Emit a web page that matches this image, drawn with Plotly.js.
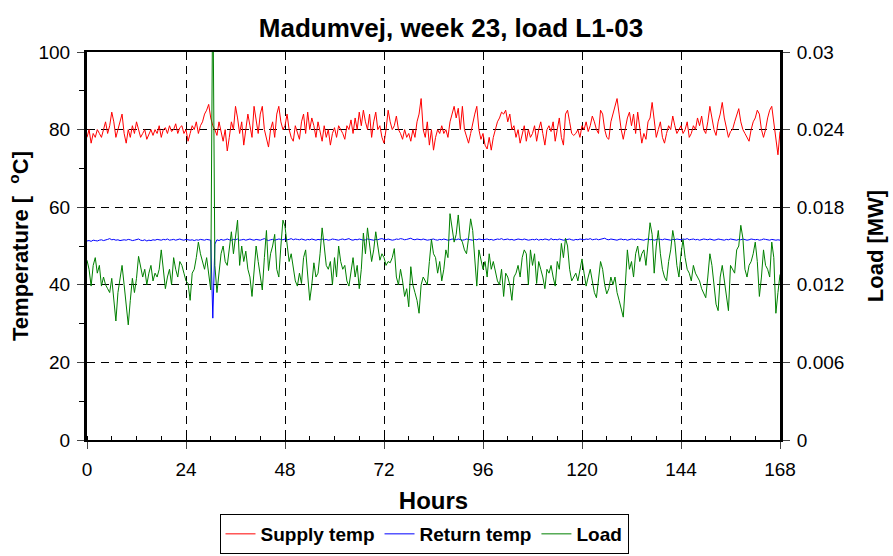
<!DOCTYPE html>
<html>
<head>
<meta charset="utf-8">
<script src="https://cdn.plot.ly/plotly-3.0.1.min.js"></script>
<style>html,body{margin:0;padding:0;background:#fff;}#chart{width:893px;height:556px;}</style>
</head>
<body>
<div id="chart"></div>
<script>
// Time axis: samples every half hour from 0 to 168 h
const stepHours = 0.5;
const sampleCount = 337;
const hours = [];
for (let i = 0; i < sampleCount; i++) hours.push(i * stepHours);

const xTickVals = [0, 24, 48, 72, 96, 120, 144, 168];
const yTickVals = [0, 20, 40, 60, 80, 100];
const y2TickVals = [0, 0.006, 0.012, 0.018, 0.024, 0.03];
const y2TickText = ["0", "0.006", "0.012", "0.018", "0.024", "0.03"];

const seriesNames = ["Supply temp", "Return temp", "Load"];

const supplyTemp = [
78,80,76.5,79,78,80,79,78,80,82,79,81,
84.5,82,78,80,82,84,79,76.5,80,78,81,79,
82,80,78,79,80,77.5,79,80,78.5,80,79,81,
78,80,80.5,79,81,79.5,80,81.5,79,80.5,81,79,
80,77,79,81,80,82,79,81,82,84,85,86.5,
83,81,80,78.5,82,79,77,80,74.5,78,82,80,
86,83,79,82,76,80,84,81,78,86,82,79,
84,86,80,78,75.5,80,82,78,84,86,82,80,
81,84,80,78,77,81,79,77.5,82,84,79,84.5,
80,83,81,78,82,79,77,81,78,80,76,79,
80.5,78,81,80,79,77.5,81,80,82.5,79,83,80,
84.5,81,85,82,80,84,78,82,84.5,80,81,78,
76.5,80,85,82,80,81,83.5,80,79,77.5,80,78,
79,77,80,78,82,84,88,80,78,82,76,80,
74.7,78,80,79,81,79,80,78,82,84,86,83,
85.5,80,86,80,78,76.5,79,82,84,86,80,77.5,
79,76,75,78,74.7,78,80,82,83,84.5,84,85,
82,84,80,81,78,80,76.5,79,81,77,80,78,
79,81,77,80,82,79,76,80,81,79.5,82,77,
80,83,78,76,84,85,82,79,78.5,79,80,78,
81,80,82,79.5,81,83.5,82,80,79,85,84,80,
78,77.5,82,84,86,88,84,80,77.5,80,83,84.5,
81,84,79,84.5,80,76.5,79,77.5,82,83,87,82,
78,80,82,78,76.5,79,81,80,83.5,81,79,80,
81,79,80,82,78,79,81,80,83,81,83.5,80,
79,82,86,83,80,78.5,82,84,87,83,80,78,
79.5,80,82,84,85.4,82,80,79,78,77,80,82,
83,85,84,80,78,80,83,85,86,82,77,73.5,
79.5
];

const returnTemp = [
51.3,51.4,51.2,51.5,51.4,51.3,51.5,51.6,51.4,51.5,51.7,51.9,
51.6,51.7,51.5,51.6,51.4,51.5,51.6,51.5,51.7,51.6,51.4,51.5,
51.6,51.8,51.5,51.4,51.6,51.3,51.5,51.4,51.6,51.5,51.7,51.6,
51.5,51.7,51.6,51.8,51.5,51.6,51.7,51.5,51.6,51.8,51.6,51.5,
51.7,51.6,51.5,51.6,51.4,51.6,51.5,51.7,51.6,51.5,51.7,51.6,
51.5,31.4,50.5,51.6,51.4,51.7,51.5,51.6,51.8,51.6,51.5,51.7,
51.6,51.8,51.5,51.6,51.7,51.5,51.6,51.8,51.6,51.5,51.7,51.6,
51.5,51.7,51.9,51.6,51.4,51.6,51.7,51.5,51.6,51.8,51.7,51.6,
51.8,51.6,51.7,51.9,51.6,51.8,51.7,51.6,51.8,51.7,51.5,51.7,
51.6,51.8,51.7,51.5,51.7,51.6,51.8,51.6,51.7,51.5,51.6,51.8,
51.7,51.6,51.5,51.7,51.8,51.6,51.7,51.9,51.6,51.5,51.7,51.6,
51.8,51.7,51.5,51.6,51.8,51.7,51.6,51.5,51.7,51.6,51.8,51.9,
51.7,51.6,51.8,51.7,51.5,51.6,51.8,51.7,51.9,51.8,51.6,51.7,
51.8,52.0,51.7,51.6,51.8,51.7,51.6,51.8,51.7,51.5,51.6,51.7,
51.8,51.6,51.5,51.7,51.6,51.8,51.7,51.5,51.6,51.8,51.7,51.6,
51.8,51.7,51.5,51.6,51.8,51.7,51.6,51.5,51.7,51.6,51.8,51.7,
51.6,51.7,51.8,51.6,51.7,51.5,51.6,51.8,51.7,51.9,51.6,51.7,
51.8,51.6,51.7,51.5,51.6,51.8,51.7,51.6,51.8,51.7,51.5,51.6,
51.7,51.6,51.8,51.5,51.7,51.6,51.8,51.7,51.5,51.9,51.6,51.7,
51.6,51.8,51.7,51.5,51.6,51.7,51.8,51.6,51.5,51.7,51.6,51.8,
51.7,51.6,51.8,51.7,51.9,51.6,51.7,51.8,51.6,51.7,51.8,52.0,
51.7,51.6,51.8,51.7,51.6,51.5,51.7,51.8,51.6,51.7,51.5,51.6,
51.8,51.7,51.6,51.8,51.7,51.6,51.5,51.7,51.8,51.6,51.7,51.5,
51.6,51.8,51.7,51.6,51.8,51.7,51.6,51.5,51.7,51.6,51.8,51.7,
51.6,51.8,51.7,51.9,51.6,51.7,51.8,51.6,51.7,51.5,51.6,51.8,
51.7,51.6,51.8,51.7,51.5,51.6,51.8,51.7,51.6,51.5,51.7,51.6,
51.8,51.7,51.6,51.5,51.7,51.6,51.8,51.7,51.5,51.6,51.8,51.7,
51.6,51.7,51.5,51.6,51.8,51.7,51.6,51.5,51.7,51.6,51.5,51.6,
51.5
];

const loadMW = [
0.0139,0.0132,0.0119,0.0135,0.0141,0.0129,0.0135,0.0119,0.0126,0.0120,0.0117,0.0114,
0.0125,0.0108,0.0092,0.0114,0.0126,0.0135,0.0120,0.0105,0.0089,0.0108,0.0125,0.0114,
0.0125,0.0142,0.0135,0.0126,0.0132,0.0120,0.0129,0.0135,0.0123,0.0129,0.0126,0.0132,
0.0147,0.0129,0.0117,0.0126,0.0132,0.0120,0.0141,0.0132,0.0126,0.0138,0.0135,0.0129,
0.0123,0.0121,0.0108,0.0129,0.0132,0.0141,0.0153,0.0144,0.0138,0.0132,0.0141,0.0126,
0.0116,0.0360,0.0135,0.0114,0.0132,0.0144,0.0150,0.0138,0.0135,0.0150,0.0161,0.0144,
0.0156,0.0170,0.0135,0.0150,0.0138,0.0146,0.0132,0.0126,0.0111,0.0132,0.0150,0.0138,
0.0126,0.0116,0.0141,0.0162,0.0131,0.0144,0.0150,0.0159,0.0132,0.0126,0.0150,0.0170,
0.0165,0.0150,0.0138,0.0144,0.0132,0.0123,0.0119,0.0129,0.0121,0.0141,0.0147,0.0126,
0.0108,0.0120,0.0137,0.0126,0.0129,0.0144,0.0164,0.0150,0.0135,0.0132,0.0138,0.0120,
0.0141,0.0126,0.0150,0.0138,0.0132,0.0135,0.0123,0.0119,0.0132,0.0141,0.0126,0.0135,
0.0117,0.0132,0.0160,0.0144,0.0164,0.0150,0.0138,0.0147,0.0161,0.0150,0.0139,0.0144,
0.0141,0.0135,0.0138,0.0137,0.0141,0.0148,0.0126,0.0120,0.0132,0.0123,0.0111,0.0117,
0.0103,0.0134,0.0120,0.0114,0.0108,0.0098,0.0120,0.0126,0.0123,0.0120,0.0138,0.0155,
0.0144,0.0141,0.0129,0.0138,0.0123,0.0132,0.0147,0.0141,0.0175,0.0162,0.0153,0.0159,
0.0174,0.0156,0.0153,0.0147,0.0144,0.0156,0.0171,0.0162,0.0138,0.0119,0.0147,0.0138,
0.0132,0.0138,0.0126,0.0144,0.0132,0.0138,0.0129,0.0123,0.0120,0.0132,0.0111,0.0129,
0.0126,0.0120,0.0108,0.0126,0.0129,0.0135,0.0126,0.0141,0.0147,0.0144,0.0120,0.0147,
0.0135,0.0144,0.0121,0.0138,0.0132,0.0126,0.0117,0.0132,0.0129,0.0135,0.0126,0.0119,
0.0138,0.0132,0.0152,0.0141,0.0156,0.0150,0.0132,0.0123,0.0126,0.0129,0.0123,0.0132,
0.0140,0.0129,0.0119,0.0126,0.0132,0.0123,0.0114,0.0110,0.0126,0.0138,0.0132,0.0120,
0.0113,0.0117,0.0126,0.0120,0.0126,0.0114,0.0108,0.0102,0.0095,0.0120,0.0147,0.0132,
0.0138,0.0126,0.0144,0.0150,0.0138,0.0144,0.0147,0.0135,0.0150,0.0168,0.0159,0.0129,
0.0150,0.0162,0.0144,0.0132,0.0126,0.0123,0.0138,0.0147,0.0162,0.0153,0.0135,0.0126,
0.0144,0.0155,0.0141,0.0132,0.0129,0.0123,0.0135,0.0129,0.0126,0.0123,0.0117,0.0114,
0.0110,0.0126,0.0144,0.0135,0.0120,0.0105,0.0100,0.0126,0.0135,0.0123,0.0108,0.0100,
0.0135,0.0132,0.0129,0.0147,0.0150,0.0166,0.0156,0.0132,0.0126,0.0135,0.0138,0.0144,
0.0153,0.0138,0.0111,0.0126,0.0147,0.0135,0.0132,0.0126,0.0153,0.0141,0.0098,0.0114,
0.0128
];

const FONT = "Liberation Sans, Arial, sans-serif";

const traces = [
  {x: hours, y: supplyTemp, name: seriesNames[0], type: "scatter", mode: "lines",
   line: {color: "#ff0000", width: 1}, yaxis: "y"},
  {x: hours, y: returnTemp, name: seriesNames[1], type: "scatter", mode: "lines",
   line: {color: "#0000ff", width: 1}, yaxis: "y"},
  {x: hours, y: loadMW, name: seriesNames[2], type: "scatter", mode: "lines",
   line: {color: "#008000", width: 1}, yaxis: "y2"}
];

const layout = {
  width: 893, height: 556,
  margin: {l: 87, r: 113, t: 52, b: 116},
  paper_bgcolor: "#ffffff", plot_bgcolor: "#ffffff",
  font: {family: FONT, size: 19, color: "#000"},
  title: {text: "<b>Madumvej, week 23, load L1-03</b>", font: {family: FONT, size: 26, color: "#000"},
          x: 451/893, xanchor: "center", xref: "container", y: 1 - 28/556, yanchor: "middle", yref: "container"},
  showlegend: true,
  legend: {orientation: "h", x: 424/893, xanchor: "center", xref: "container",
           y: 1 - 554/556, yanchor: "bottom", yref: "container",
           bordercolor: "#000", borderwidth: 1, bgcolor: "#fff",
           font: {family: FONT, size: 19, color: "#000", weight: "bold"},
           itemwidth: 30, tracegroupgap: 0},
  xaxis: {range: [0, 168], tickvals: xTickVals, ticks: "outside", ticklen: 7, tickwidth: 1,
          ticklabelstandoff: 4,
          showline: true, linewidth: 2, linecolor: "#000", mirror: true,
          showgrid: true, gridcolor: "#000", gridwidth: 1, griddash: "8px,6px",
          zeroline: false, tickfont: {family: FONT, size: 19},
          minor: {dtick: 6, tick0: 0, ticks: "inside", ticklen: 4, tickcolor: "#000", showgrid: false},
          title: {text: "<b>Hours</b>", font: {family: FONT, size: 24}, standoff: 13}},
  yaxis: {range: [0, 100], tickvals: yTickVals, ticks: "outside", ticklen: 7, tickwidth: 1,
          ticklabelstandoff: 3,
          showline: true, linewidth: 3, linecolor: "#000",
          showgrid: true, gridcolor: "#000", gridwidth: 1, griddash: "8px,6px",
          zeroline: false, tickfont: {family: FONT, size: 19},
          minor: {dtick: 10, ticks: "outside", ticklen: 5, tickcolor: "#000", showgrid: false},
          title: {text: "<b>Temperature [  <sup>o</sup>C]</b>", font: {family: FONT, size: 22}, standoff: 4}},
  yaxis2: {range: [0, 0.03], tickvals: y2TickVals, ticktext: y2TickText, overlaying: "y", side: "right",
           ticks: "outside", ticklen: 7, tickwidth: 1, ticklabelstandoff: 3,
           showline: true, linewidth: 3, linecolor: "#000",
           showgrid: false, zeroline: false, tickfont: {family: FONT, size: 19},
           title: {text: "<b>Load [MW]</b>", font: {family: FONT, size: 22}, standoff: 24}}
};

Plotly.newPlot("chart", traces, layout, {displayModeBar: false, staticPlot: true});
</script>
</body>
</html>
